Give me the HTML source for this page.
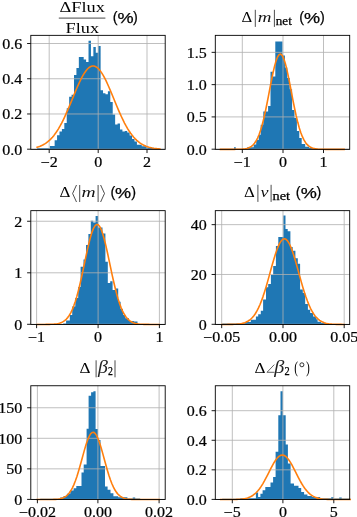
<!DOCTYPE html>
<html><head><meta charset="utf-8"><title>hist</title>
<style>
html,body{margin:0;padding:0;background:#fff;}
body{width:357px;height:517px;overflow:hidden;font-family:"Liberation Serif",serif;}
svg{display:block;}
.m{font-family:"Liberation Serif",serif;font-size:14.3px;fill:#000;}
.mi{font-family:"Liberation Serif",serif;font-style:italic;font-size:15.2px;fill:#111;}
.mb{font-family:"Liberation Serif",serif;font-style:italic;font-size:14.6px;fill:#222;}
.mp{font-family:"Liberation Serif",serif;font-size:16.5px;fill:#000;}
.sub{font-family:"Liberation Serif",serif;font-size:11.6px;fill:#000;stroke:#000;stroke-width:0.25px;}
.s{font-family:"Liberation Sans",sans-serif;font-size:15.2px;fill:#000;stroke:#000;stroke-width:0.25px;}
.t{font-family:"Liberation Serif",serif;font-size:13.8px;fill:#000;stroke:#000;stroke-width:0.22px;}
</style></head><body>
<svg width="357" height="517" viewBox="0 0 357 517">
<rect width="357" height="517" fill="#fff"/>
<path transform="translate(0.2,0)" d="M36.90,149.25L36.90,148.30L49.60,148.30L49.60,146.10L52.02,146.10L52.02,146.10L54.44,146.10L54.44,140.20L56.86,140.20L56.86,135.30L59.28,135.30L59.28,131.40L61.70,131.40L61.70,129.00L64.12,129.00L64.12,123.10L66.54,123.10L66.54,108.20L68.96,108.20L68.96,96.80L71.38,96.80L71.38,94.80L73.80,94.80L73.80,75.00L76.22,75.00L76.22,67.90L78.64,67.90L78.64,57.00L81.06,57.00L81.06,57.00L83.48,57.00L83.48,59.50L85.90,59.50L85.90,62.00L88.32,62.00L88.32,40.70L90.74,40.70L90.74,56.20L93.16,56.20L93.16,46.90L95.58,46.90L95.58,52.80L98.00,52.80L98.00,46.10L100.42,46.10L100.42,90.20L102.84,90.20L102.84,93.20L105.26,93.20L105.26,94.20L107.68,94.20L107.68,91.20L110.10,91.20L110.10,101.90L112.52,101.90L112.52,114.40L114.94,114.40L114.94,124.50L117.36,124.50L117.36,123.50L119.78,123.50L119.78,129.50L122.20,129.50L122.20,131.50L124.62,131.50L124.62,131.00L127.04,131.00L127.04,132.60L129.46,132.60L129.46,135.60L131.88,135.60L131.88,139.00L134.30,139.00L134.30,141.60L136.72,141.60L136.72,144.70L139.14,144.70L139.14,144.70L141.56,144.70L141.56,146.30L143.98,146.30L143.98,146.30L146.40,146.30L146.40,147.50L148.82,147.50L148.82,147.50L151.24,147.50L151.24,147.80L153.66,147.80L153.66,148.00L156.08,148.00L156.08,149.25Z" fill="#1f77b4"/>
<line x1="49.2" y1="35.35" x2="49.2" y2="149.35" stroke="#b0b0b0" stroke-width="0.9" stroke-opacity="0.9"/>
<line x1="98.2" y1="35.35" x2="98.2" y2="149.35" stroke="#b0b0b0" stroke-width="0.9" stroke-opacity="0.9"/>
<line x1="147.0" y1="35.35" x2="147.0" y2="149.35" stroke="#b0b0b0" stroke-width="0.9" stroke-opacity="0.9"/>
<line x1="30.8" y1="149.2" x2="165.2" y2="149.2" stroke="#b0b0b0" stroke-width="0.9" stroke-opacity="0.9"/>
<line x1="30.8" y1="113.97" x2="165.2" y2="113.97" stroke="#b0b0b0" stroke-width="0.9" stroke-opacity="0.9"/>
<line x1="30.8" y1="78.74" x2="165.2" y2="78.74" stroke="#b0b0b0" stroke-width="0.9" stroke-opacity="0.9"/>
<line x1="30.8" y1="43.5" x2="165.2" y2="43.5" stroke="#b0b0b0" stroke-width="0.9" stroke-opacity="0.9"/>
<path transform="translate(0.2,0.1)" d="M36.90,147.10L38.43,146.63L39.97,146.08L41.50,145.43L43.03,144.67L44.57,143.79L46.10,142.78L47.64,141.62L49.17,140.30L50.70,138.81L52.24,137.14L53.77,135.29L55.30,133.23L56.84,130.97L58.37,128.51L59.91,125.85L61.44,122.99L62.97,119.94L64.51,116.71L66.04,113.33L67.58,109.81L69.11,106.19L70.64,102.49L72.18,98.75L73.71,95.01L75.24,91.32L76.78,87.71L78.31,84.23L79.84,80.93L81.38,77.86L82.91,75.06L84.45,72.57L85.98,70.43L87.51,68.67L89.05,67.33L90.58,66.42L92.11,65.96L93.65,65.95L95.18,66.41L96.72,67.30L98.25,68.64L99.78,70.38L101.32,72.51L102.85,75.00L104.38,77.79L105.92,80.86L107.45,84.15L108.99,87.62L110.52,91.23L112.05,94.93L113.59,98.67L115.12,102.40L116.66,106.10L118.19,109.73L119.72,113.25L121.26,116.63L122.79,119.86L124.32,122.92L125.86,125.78L127.39,128.45L128.92,130.92L130.46,133.18L131.99,135.24L133.53,137.10L135.06,138.78L136.59,140.27L138.13,141.59L139.66,142.75L141.19,143.77L142.73,144.65L144.26,145.41L145.80,146.07L147.33,146.62L148.86,147.09L150.40,147.49L151.93,147.82L153.46,148.10L155.00,148.32L156.53,148.51L158.07,148.66L159.60,148.79" fill="none" stroke="#ff7f0e" stroke-width="1.6" stroke-linecap="square" stroke-linejoin="round"/>
<rect x="30.8" y="35.35" width="134.40" height="114.00" fill="none" stroke="#000" stroke-width="0.9"/>
<line x1="49.2" y1="149.35" x2="49.2" y2="153.04999999999998" stroke="#000" stroke-width="0.9"/>
<line x1="98.2" y1="149.35" x2="98.2" y2="153.04999999999998" stroke="#000" stroke-width="0.9"/>
<line x1="147.0" y1="149.35" x2="147.0" y2="153.04999999999998" stroke="#000" stroke-width="0.9"/>
<line x1="27.10" y1="149.2" x2="30.8" y2="149.2" stroke="#000" stroke-width="0.9"/>
<line x1="27.10" y1="113.97" x2="30.8" y2="113.97" stroke="#000" stroke-width="0.9"/>
<line x1="27.10" y1="78.74" x2="30.8" y2="78.74" stroke="#000" stroke-width="0.9"/>
<line x1="27.10" y1="43.5" x2="30.8" y2="43.5" stroke="#000" stroke-width="0.9"/>
<path transform="translate(0.2,0)" d="M233.80,149.25L233.80,147.20L235.60,147.20L235.60,149.00L247.20,149.00L247.20,146.90L249.00,146.90L249.00,147.30L253.50,147.30L253.50,144.40L256.00,144.40L256.00,140.00L258.50,140.00L258.50,134.80L260.50,134.80L260.50,124.70L263.10,124.70L263.10,111.60L267.90,111.60L267.90,106.00L270.30,106.00L270.30,71.70L272.70,71.70L272.70,76.60L275.10,76.60L275.10,41.50L282.30,41.50L282.30,55.60L284.70,55.60L284.70,67.50L287.10,67.50L287.10,78.00L289.50,78.00L289.50,89.20L291.90,89.20L291.90,110.00L294.30,110.00L294.30,118.00L296.70,118.00L296.70,131.00L299.10,131.00L299.10,138.00L301.50,138.00L301.50,144.00L305.00,144.00L305.00,146.70L309.00,146.70L309.00,148.00L315.00,148.00L315.00,149.25Z" fill="#1f77b4"/>
<line x1="242.29999999999998" y1="35.35" x2="242.29999999999998" y2="149.35" stroke="#b0b0b0" stroke-width="0.9" stroke-opacity="0.9"/>
<line x1="283.0" y1="35.35" x2="283.0" y2="149.35" stroke="#b0b0b0" stroke-width="0.9" stroke-opacity="0.9"/>
<line x1="323.5" y1="35.35" x2="323.5" y2="149.35" stroke="#b0b0b0" stroke-width="0.9" stroke-opacity="0.9"/>
<line x1="215.3" y1="149.2" x2="349.7" y2="149.2" stroke="#b0b0b0" stroke-width="0.9" stroke-opacity="0.9"/>
<line x1="215.3" y1="116.92" x2="349.7" y2="116.92" stroke="#b0b0b0" stroke-width="0.9" stroke-opacity="0.9"/>
<line x1="215.3" y1="84.64" x2="349.7" y2="84.64" stroke="#b0b0b0" stroke-width="0.9" stroke-opacity="0.9"/>
<line x1="215.3" y1="52.35" x2="349.7" y2="52.35" stroke="#b0b0b0" stroke-width="0.9" stroke-opacity="0.9"/>
<path transform="translate(0.2,0.1)" d="M220.30,149.25L221.84,149.25L223.39,149.25L224.94,149.25L226.48,149.25L228.03,149.25L229.57,149.25L231.12,149.25L232.66,149.24L234.21,149.23L235.75,149.22L237.30,149.20L238.84,149.17L240.38,149.11L241.93,149.02L243.47,148.88L245.02,148.67L246.56,148.34L248.11,147.87L249.66,147.19L251.20,146.25L252.75,144.94L254.29,143.20L255.84,140.92L257.38,138.00L258.93,134.35L260.47,129.91L262.01,124.63L263.56,118.53L265.11,111.66L266.65,104.16L268.19,96.22L269.74,88.11L271.28,80.13L272.83,72.64L274.38,66.00L275.92,60.55L277.46,56.60L279.01,54.37L280.56,53.98L282.10,55.47L283.64,58.73L285.19,63.60L286.74,69.79L288.28,76.97L289.82,84.79L291.37,92.89L292.91,100.94L294.46,108.64L296.00,115.79L297.55,122.22L299.10,127.84L300.64,132.62L302.19,136.59L303.73,139.80L305.27,142.33L306.82,144.29L308.37,145.76L309.91,146.84L311.45,147.62L313.00,148.17L314.54,148.55L316.09,148.80L317.63,148.97L319.18,149.08L320.73,149.15L322.27,149.19L323.81,149.22L325.36,149.23L326.90,149.24L328.45,149.24L330.00,149.25L331.54,149.25L333.08,149.25L334.63,149.25L336.17,149.25L337.72,149.25L339.26,149.25L340.81,149.25L342.36,149.25L343.90,149.25" fill="none" stroke="#ff7f0e" stroke-width="1.6" stroke-linecap="square" stroke-linejoin="round"/>
<rect x="215.3" y="35.35" width="134.40" height="114.00" fill="none" stroke="#000" stroke-width="0.9"/>
<line x1="242.29999999999998" y1="149.35" x2="242.29999999999998" y2="153.04999999999998" stroke="#000" stroke-width="0.9"/>
<line x1="283.0" y1="149.35" x2="283.0" y2="153.04999999999998" stroke="#000" stroke-width="0.9"/>
<line x1="323.5" y1="149.35" x2="323.5" y2="153.04999999999998" stroke="#000" stroke-width="0.9"/>
<line x1="211.60" y1="149.2" x2="215.3" y2="149.2" stroke="#000" stroke-width="0.9"/>
<line x1="211.60" y1="116.92" x2="215.3" y2="116.92" stroke="#000" stroke-width="0.9"/>
<line x1="211.60" y1="84.64" x2="215.3" y2="84.64" stroke="#000" stroke-width="0.9"/>
<line x1="211.60" y1="52.35" x2="215.3" y2="52.35" stroke="#000" stroke-width="0.9"/>
<path transform="translate(0.2,0)" d="M63.00,324.35L63.00,323.40L65.90,323.40L65.90,320.60L69.60,320.60L69.60,315.00L72.00,315.00L72.00,306.50L75.10,306.50L75.10,298.00L78.00,298.00L78.00,287.00L80.40,287.00L80.40,266.70L83.30,266.70L83.30,259.40L85.80,259.40L85.80,244.90L88.20,244.90L88.20,234.00L90.60,234.00L90.60,220.70L93.00,220.70L93.00,222.40L95.40,222.40L95.40,215.90L97.90,215.90L97.90,227.50L102.30,227.50L102.30,233.50L105.20,233.50L105.20,261.80L107.60,261.80L107.60,282.90L110.00,282.90L110.00,281.20L112.40,281.20L112.40,290.10L114.80,290.10L114.80,288.40L118.00,288.40L118.00,301.70L120.40,301.70L120.40,309.00L122.80,309.00L122.80,315.00L125.20,315.00L125.20,318.20L128.80,318.20L128.80,321.00L133.70,321.00L133.70,321.50L137.30,321.50L137.30,324.35Z" fill="#1f77b4"/>
<line x1="36.6" y1="210.65" x2="36.6" y2="324.45" stroke="#b0b0b0" stroke-width="0.9" stroke-opacity="0.9"/>
<line x1="98.1" y1="210.65" x2="98.1" y2="324.45" stroke="#b0b0b0" stroke-width="0.9" stroke-opacity="0.9"/>
<line x1="159.4" y1="210.65" x2="159.4" y2="324.45" stroke="#b0b0b0" stroke-width="0.9" stroke-opacity="0.9"/>
<line x1="30.8" y1="324.3" x2="165.2" y2="324.3" stroke="#b0b0b0" stroke-width="0.9" stroke-opacity="0.9"/>
<line x1="30.8" y1="272.8" x2="165.2" y2="272.8" stroke="#b0b0b0" stroke-width="0.9" stroke-opacity="0.9"/>
<line x1="30.8" y1="221.25" x2="165.2" y2="221.25" stroke="#b0b0b0" stroke-width="0.9" stroke-opacity="0.9"/>
<path transform="translate(0.2,0.1)" d="M37.00,324.35L38.52,324.35L40.05,324.35L41.58,324.34L43.10,324.34L44.62,324.33L46.15,324.32L47.67,324.30L49.20,324.26L50.73,324.22L52.25,324.14L53.77,324.04L55.30,323.88L56.83,323.66L58.35,323.35L59.88,322.92L61.40,322.34L62.92,321.56L64.45,320.53L65.97,319.19L67.50,317.49L69.03,315.35L70.55,312.72L72.08,309.54L73.60,305.76L75.12,301.34L76.65,296.29L78.17,290.61L79.70,284.36L81.22,277.64L82.75,270.57L84.28,263.31L85.80,256.06L87.33,249.05L88.85,242.51L90.38,236.67L91.90,231.76L93.42,227.98L94.95,225.47L96.47,224.36L98.00,224.67L99.53,226.41L101.05,229.50L102.58,233.81L104.10,239.15L105.62,245.33L107.15,252.11L108.67,259.25L110.20,266.53L111.72,273.73L113.25,280.67L114.78,287.19L116.30,293.20L117.83,298.60L119.35,303.38L120.88,307.51L122.40,311.02L123.92,313.95L125.45,316.35L126.97,318.29L128.50,319.82L130.03,321.02L131.55,321.93L133.07,322.62L134.60,323.13L136.12,323.50L137.65,323.77L139.18,323.96L140.70,324.09L142.22,324.18L143.75,324.24L145.28,324.28L146.80,324.31L148.32,324.32L149.85,324.33L151.38,324.34L152.90,324.34L154.43,324.35L155.95,324.35L157.47,324.35L159.00,324.35" fill="none" stroke="#ff7f0e" stroke-width="1.6" stroke-linecap="square" stroke-linejoin="round"/>
<rect x="30.8" y="210.65" width="134.40" height="113.80" fill="none" stroke="#000" stroke-width="0.9"/>
<line x1="36.6" y1="324.45" x2="36.6" y2="328.15" stroke="#000" stroke-width="0.9"/>
<line x1="98.1" y1="324.45" x2="98.1" y2="328.15" stroke="#000" stroke-width="0.9"/>
<line x1="159.4" y1="324.45" x2="159.4" y2="328.15" stroke="#000" stroke-width="0.9"/>
<line x1="27.10" y1="324.3" x2="30.8" y2="324.3" stroke="#000" stroke-width="0.9"/>
<line x1="27.10" y1="272.8" x2="30.8" y2="272.8" stroke="#000" stroke-width="0.9"/>
<line x1="27.10" y1="221.25" x2="30.8" y2="221.25" stroke="#000" stroke-width="0.9"/>
<path transform="translate(0.2,0)" d="M222.00,324.35L222.00,323.60L236.00,323.60L236.00,323.20L245.00,323.20L245.00,322.00L250.60,322.00L250.60,319.80L255.70,319.80L255.70,316.40L258.00,316.40L258.00,314.20L260.60,314.20L260.60,310.80L262.90,310.80L262.90,299.60L265.80,299.60L265.80,287.30L268.00,287.30L268.00,284.00L270.70,284.00L270.70,275.00L273.00,275.00L273.00,266.00L275.70,266.00L275.70,245.90L278.10,245.90L278.10,236.90L283.10,236.90L283.10,215.60L285.30,215.60L285.30,229.00L287.50,229.00L287.50,231.30L290.20,231.30L290.20,247.00L292.50,247.00L292.50,250.80L295.20,250.80L295.20,258.20L297.60,258.20L297.60,263.80L299.90,263.80L299.90,289.60L302.60,289.60L302.60,292.90L305.00,292.90L305.00,304.10L307.70,304.10L307.70,309.70L310.00,309.70L310.00,313.10L312.90,313.10L312.90,316.40L316.00,316.40L316.00,319.20L317.40,319.20L317.40,321.70L321.00,321.70L321.00,323.00L327.50,323.00L327.50,324.35Z" fill="#1f77b4"/>
<line x1="221.7" y1="210.65" x2="221.7" y2="324.45" stroke="#b0b0b0" stroke-width="0.9" stroke-opacity="0.9"/>
<line x1="283.0" y1="210.65" x2="283.0" y2="324.45" stroke="#b0b0b0" stroke-width="0.9" stroke-opacity="0.9"/>
<line x1="344.2" y1="210.65" x2="344.2" y2="324.45" stroke="#b0b0b0" stroke-width="0.9" stroke-opacity="0.9"/>
<line x1="215.3" y1="324.3" x2="349.7" y2="324.3" stroke="#b0b0b0" stroke-width="0.9" stroke-opacity="0.9"/>
<line x1="215.3" y1="274.47" x2="349.7" y2="274.47" stroke="#b0b0b0" stroke-width="0.9" stroke-opacity="0.9"/>
<line x1="215.3" y1="224.65" x2="349.7" y2="224.65" stroke="#b0b0b0" stroke-width="0.9" stroke-opacity="0.9"/>
<path transform="translate(0.2,0.1)" d="M221.60,324.34L223.13,324.34L224.66,324.34L226.19,324.33L227.72,324.32L229.24,324.30L230.77,324.27L232.30,324.23L233.83,324.18L235.36,324.10L236.89,324.00L238.42,323.85L239.94,323.65L241.47,323.38L243.00,323.02L244.53,322.54L246.06,321.93L247.59,321.15L249.12,320.16L250.65,318.93L252.17,317.42L253.70,315.59L255.23,313.41L256.76,310.83L258.29,307.84L259.82,304.41L261.35,300.55L262.88,296.26L264.40,291.58L265.93,286.56L267.46,281.26L268.99,275.77L270.52,270.22L272.05,264.72L273.58,259.40L275.11,254.42L276.63,249.91L278.16,246.02L279.69,242.86L281.22,240.54L282.75,239.14L284.28,238.70L285.81,239.24L287.34,240.74L288.87,243.15L290.39,246.39L291.92,250.35L293.45,254.91L294.98,259.94L296.51,265.28L298.04,270.79L299.57,276.34L301.09,281.81L302.62,287.09L304.15,292.08L305.68,296.72L307.21,300.97L308.74,304.78L310.27,308.16L311.80,311.11L313.32,313.65L314.85,315.80L316.38,317.59L317.91,319.07L319.44,320.27L320.97,321.24L322.50,322.00L324.03,322.60L325.56,323.06L327.08,323.41L328.61,323.67L330.14,323.87L331.67,324.01L333.20,324.11L334.73,324.19L336.26,324.24L337.78,324.27L339.31,324.30L340.84,324.32L342.37,324.33L343.90,324.34" fill="none" stroke="#ff7f0e" stroke-width="1.6" stroke-linecap="square" stroke-linejoin="round"/>
<rect x="215.3" y="210.65" width="134.40" height="113.80" fill="none" stroke="#000" stroke-width="0.9"/>
<line x1="221.7" y1="324.45" x2="221.7" y2="328.15" stroke="#000" stroke-width="0.9"/>
<line x1="283.0" y1="324.45" x2="283.0" y2="328.15" stroke="#000" stroke-width="0.9"/>
<line x1="344.2" y1="324.45" x2="344.2" y2="328.15" stroke="#000" stroke-width="0.9"/>
<line x1="211.60" y1="324.3" x2="215.3" y2="324.3" stroke="#000" stroke-width="0.9"/>
<line x1="211.60" y1="274.47" x2="215.3" y2="274.47" stroke="#000" stroke-width="0.9"/>
<line x1="211.60" y1="224.65" x2="215.3" y2="224.65" stroke="#000" stroke-width="0.9"/>
<path transform="translate(0.2,0)" d="M40.00,499.45L40.00,498.80L60.00,498.80L60.00,497.60L63.40,497.60L63.40,496.00L66.70,496.00L66.70,493.80L70.10,493.80L70.10,490.40L73.40,490.40L73.40,488.20L76.10,488.20L76.10,485.90L81.30,485.90L81.30,472.50L83.50,472.50L83.50,464.60L86.40,464.60L86.40,428.70L88.40,428.70L88.40,395.80L90.90,395.80L90.90,392.20L93.20,392.20L93.20,391.30L95.40,391.30L95.40,428.90L97.70,428.90L97.70,440.00L100.30,440.00L100.30,466.10L104.80,466.10L104.80,486.40L107.40,486.40L107.40,489.80L110.30,489.80L110.30,493.30L113.20,493.30L113.20,496.20L118.00,496.20L118.00,497.30L127.20,497.30L127.20,498.40L132.50,498.40L132.50,497.60L135.00,497.60L135.00,498.60L140.00,498.60L140.00,499.45Z" fill="#1f77b4"/>
<line x1="37.4" y1="385.75" x2="37.4" y2="499.54999999999995" stroke="#b0b0b0" stroke-width="0.9" stroke-opacity="0.9"/>
<line x1="97.89999999999999" y1="385.75" x2="97.89999999999999" y2="499.54999999999995" stroke="#b0b0b0" stroke-width="0.9" stroke-opacity="0.9"/>
<line x1="159.10000000000002" y1="385.75" x2="159.10000000000002" y2="499.54999999999995" stroke="#b0b0b0" stroke-width="0.9" stroke-opacity="0.9"/>
<line x1="30.8" y1="499.4" x2="165.2" y2="499.4" stroke="#b0b0b0" stroke-width="0.9" stroke-opacity="0.9"/>
<line x1="30.8" y1="468.85" x2="165.2" y2="468.85" stroke="#b0b0b0" stroke-width="0.9" stroke-opacity="0.9"/>
<line x1="30.8" y1="438.3" x2="165.2" y2="438.3" stroke="#b0b0b0" stroke-width="0.9" stroke-opacity="0.9"/>
<line x1="30.8" y1="407.75" x2="165.2" y2="407.75" stroke="#b0b0b0" stroke-width="0.9" stroke-opacity="0.9"/>
<path transform="translate(0.2,0.1)" d="M37.00,499.45L38.52,499.45L40.05,499.45L41.58,499.45L43.10,499.45L44.62,499.45L46.15,499.44L47.67,499.43L49.20,499.42L50.73,499.40L52.25,499.37L53.77,499.32L55.30,499.24L56.83,499.12L58.35,498.94L59.88,498.67L61.40,498.28L62.92,497.74L64.45,496.99L65.97,495.97L67.50,494.63L69.03,492.90L70.55,490.71L72.08,488.01L73.60,484.76L75.12,480.94L76.65,476.56L78.17,471.69L79.70,466.41L81.22,460.87L82.75,455.25L84.28,449.76L85.80,444.64L87.33,440.14L88.85,436.47L90.38,433.83L91.90,432.37L93.42,432.18L94.95,433.25L96.47,435.53L98.00,438.89L99.53,443.16L101.05,448.11L102.58,453.51L104.10,459.12L105.62,464.71L107.15,470.08L108.67,475.10L110.20,479.63L111.72,483.63L113.25,487.06L114.78,489.92L116.30,492.27L117.83,494.14L119.35,495.59L120.88,496.70L122.40,497.53L123.92,498.13L125.45,498.56L126.97,498.86L128.50,499.07L130.03,499.21L131.55,499.30L133.07,499.36L134.60,499.39L136.12,499.42L137.65,499.43L139.18,499.44L140.70,499.44L142.22,499.45L143.75,499.45L145.28,499.45L146.80,499.45L148.32,499.45L149.85,499.45L151.38,499.45L152.90,499.45L154.43,499.45L155.95,499.45L157.47,499.45L159.00,499.45" fill="none" stroke="#ff7f0e" stroke-width="1.6" stroke-linecap="square" stroke-linejoin="round"/>
<rect x="30.8" y="385.75" width="134.40" height="113.80" fill="none" stroke="#000" stroke-width="0.9"/>
<line x1="37.4" y1="499.54999999999995" x2="37.4" y2="503.24999999999994" stroke="#000" stroke-width="0.9"/>
<line x1="97.89999999999999" y1="499.54999999999995" x2="97.89999999999999" y2="503.24999999999994" stroke="#000" stroke-width="0.9"/>
<line x1="159.10000000000002" y1="499.54999999999995" x2="159.10000000000002" y2="503.24999999999994" stroke="#000" stroke-width="0.9"/>
<line x1="27.10" y1="499.4" x2="30.8" y2="499.4" stroke="#000" stroke-width="0.9"/>
<line x1="27.10" y1="468.85" x2="30.8" y2="468.85" stroke="#000" stroke-width="0.9"/>
<line x1="27.10" y1="438.3" x2="30.8" y2="438.3" stroke="#000" stroke-width="0.9"/>
<line x1="27.10" y1="407.75" x2="30.8" y2="407.75" stroke="#000" stroke-width="0.9"/>
<path transform="translate(0.2,0)" d="M222.00,499.45L222.00,498.80L240.00,498.80L240.00,498.20L255.70,498.20L255.70,492.60L257.90,492.60L257.90,497.00L260.20,497.00L260.20,493.70L262.40,493.70L262.40,490.30L265.10,490.30L265.10,487.00L270.30,487.00L270.30,482.50L272.90,482.50L272.90,476.90L275.40,476.90L275.40,451.80L278.10,451.80L278.10,415.30L280.30,415.30L280.30,391.30L282.60,391.30L282.60,415.30L285.50,415.30L285.50,444.40L287.70,444.40L287.70,463.40L290.40,463.40L290.40,483.60L293.80,483.60L293.80,485.80L298.30,485.80L298.30,488.10L301.00,488.10L301.00,492.10L303.90,492.10L303.90,494.40L307.20,494.40L307.20,495.90L311.70,495.90L311.70,497.00L320.00,497.00L320.00,498.20L331.00,498.20L331.00,497.30L333.50,497.30L333.50,498.40L339.00,498.40L339.00,497.60L341.50,497.60L341.50,498.60L350.00,498.60L350.00,499.45Z" fill="#1f77b4"/>
<line x1="232.29999999999998" y1="385.75" x2="232.29999999999998" y2="499.54999999999995" stroke="#b0b0b0" stroke-width="0.9" stroke-opacity="0.9"/>
<line x1="282.90000000000003" y1="385.75" x2="282.90000000000003" y2="499.54999999999995" stroke="#b0b0b0" stroke-width="0.9" stroke-opacity="0.9"/>
<line x1="333.8" y1="385.75" x2="333.8" y2="499.54999999999995" stroke="#b0b0b0" stroke-width="0.9" stroke-opacity="0.9"/>
<line x1="215.3" y1="499.4" x2="349.7" y2="499.4" stroke="#b0b0b0" stroke-width="0.9" stroke-opacity="0.9"/>
<line x1="215.3" y1="469.83" x2="349.7" y2="469.83" stroke="#b0b0b0" stroke-width="0.9" stroke-opacity="0.9"/>
<line x1="215.3" y1="440.27" x2="349.7" y2="440.27" stroke="#b0b0b0" stroke-width="0.9" stroke-opacity="0.9"/>
<line x1="215.3" y1="410.7" x2="349.7" y2="410.7" stroke="#b0b0b0" stroke-width="0.9" stroke-opacity="0.9"/>
<path transform="translate(0.2,0.1)" d="M220.50,499.45L222.12,499.45L223.74,499.45L225.36,499.44L226.97,499.44L228.59,499.43L230.21,499.42L231.83,499.41L233.45,499.38L235.07,499.34L236.69,499.29L238.31,499.21L239.93,499.10L241.54,498.95L243.16,498.74L244.78,498.46L246.40,498.08L248.02,497.58L249.64,496.94L251.26,496.14L252.88,495.13L254.49,493.89L256.11,492.41L257.73,490.65L259.35,488.61L260.97,486.29L262.59,483.70L264.21,480.87L265.82,477.84L267.44,474.67L269.06,471.45L270.68,468.25L272.30,465.18L273.92,462.34L275.54,459.84L277.16,457.78L278.77,456.23L280.39,455.25L282.01,454.90L283.63,455.18L285.25,456.09L286.87,457.58L288.49,459.60L290.11,462.06L291.73,464.86L293.34,467.91L294.96,471.10L296.58,474.33L298.20,477.50L299.82,480.55L301.44,483.41L303.06,486.03L304.68,488.38L306.29,490.44L307.91,492.23L309.53,493.74L311.15,495.01L312.77,496.04L314.39,496.87L316.01,497.52L317.62,498.03L319.24,498.42L320.86,498.71L322.48,498.93L324.10,499.09L325.72,499.20L327.34,499.28L328.96,499.34L330.57,499.38L332.19,499.40L333.81,499.42L335.43,499.43L337.05,499.44L338.67,499.44L340.29,499.45L341.91,499.45L343.52,499.45L345.14,499.45L346.76,499.45L348.38,499.45L350.00,499.45" fill="none" stroke="#ff7f0e" stroke-width="1.6" stroke-linecap="square" stroke-linejoin="round"/>
<rect x="215.3" y="385.75" width="134.40" height="113.80" fill="none" stroke="#000" stroke-width="0.9"/>
<line x1="232.29999999999998" y1="499.54999999999995" x2="232.29999999999998" y2="503.24999999999994" stroke="#000" stroke-width="0.9"/>
<line x1="282.90000000000003" y1="499.54999999999995" x2="282.90000000000003" y2="503.24999999999994" stroke="#000" stroke-width="0.9"/>
<line x1="333.8" y1="499.54999999999995" x2="333.8" y2="503.24999999999994" stroke="#000" stroke-width="0.9"/>
<line x1="211.60" y1="499.4" x2="215.3" y2="499.4" stroke="#000" stroke-width="0.9"/>
<line x1="211.60" y1="469.83" x2="215.3" y2="469.83" stroke="#000" stroke-width="0.9"/>
<line x1="211.60" y1="440.27" x2="215.3" y2="440.27" stroke="#000" stroke-width="0.9"/>
<line x1="211.60" y1="410.7" x2="215.3" y2="410.7" stroke="#000" stroke-width="0.9"/>
<line x1="58.8" y1="18.1" x2="105.4" y2="18.1" stroke="#333" stroke-width="0.9"/>
<line x1="255.3" y1="9.8" x2="255.3" y2="26.9" stroke="#111" stroke-width="0.75"/>
<line x1="274.4" y1="9.8" x2="274.4" y2="26.9" stroke="#111" stroke-width="0.75"/>
<polyline points="76.5,185.0 72.6,193.5 76.5,202.0" fill="none" stroke="#111" stroke-width="0.75"/>
<line x1="79.7" y1="185.0" x2="79.7" y2="202.0" stroke="#111" stroke-width="0.75"/>
<line x1="98.1" y1="185.0" x2="98.1" y2="202.0" stroke="#111" stroke-width="0.75"/>
<polyline points="100.6,185.0 104.5,193.5 100.6,202.0" fill="none" stroke="#111" stroke-width="0.75"/>
<line x1="257.9" y1="184.8" x2="257.9" y2="201.9" stroke="#111" stroke-width="0.75"/>
<line x1="271.1" y1="184.8" x2="271.1" y2="201.9" stroke="#111" stroke-width="0.75"/>
<line x1="96.1" y1="360.3" x2="96.1" y2="377.3" stroke="#111" stroke-width="0.75"/>
<line x1="115.0" y1="360.3" x2="115.0" y2="377.3" stroke="#111" stroke-width="0.75"/>
<polyline points="274.3,364.6 267.0,372.3 274.5,372.3" fill="none" stroke="#111" stroke-width="0.65"/>
<circle cx="301.9" cy="364.8" r="2.0" fill="none" stroke="#000" stroke-width="0.8"/>
<g style="opacity:0.999">
<text transform="translate(49.2,167.05) scale(1.16,1)" text-anchor="middle" class="t">−2</text>
<text transform="translate(98.2,167.05) scale(1.16,1)" text-anchor="middle" class="t">0</text>
<text transform="translate(147.0,167.05) scale(1.16,1)" text-anchor="middle" class="t">2</text>
<text transform="translate(22.20,154.60) scale(1.16,1)" text-anchor="end" class="t">0.0</text>
<text transform="translate(22.20,119.37) scale(1.16,1)" text-anchor="end" class="t">0.2</text>
<text transform="translate(22.20,84.14) scale(1.16,1)" text-anchor="end" class="t">0.4</text>
<text transform="translate(22.20,48.90) scale(1.16,1)" text-anchor="end" class="t">0.6</text>
<text transform="translate(242.29999999999998,167.05) scale(1.16,1)" text-anchor="middle" class="t">−1</text>
<text transform="translate(283.0,167.05) scale(1.16,1)" text-anchor="middle" class="t">0</text>
<text transform="translate(323.5,167.05) scale(1.16,1)" text-anchor="middle" class="t">1</text>
<text transform="translate(206.70,154.60) scale(1.16,1)" text-anchor="end" class="t">0.0</text>
<text transform="translate(206.70,122.32) scale(1.16,1)" text-anchor="end" class="t">0.5</text>
<text transform="translate(206.70,90.04) scale(1.16,1)" text-anchor="end" class="t">1.0</text>
<text transform="translate(206.70,57.75) scale(1.16,1)" text-anchor="end" class="t">1.5</text>
<text transform="translate(36.6,342.15) scale(1.16,1)" text-anchor="middle" class="t">−1</text>
<text transform="translate(98.1,342.15) scale(1.16,1)" text-anchor="middle" class="t">0</text>
<text transform="translate(159.4,342.15) scale(1.16,1)" text-anchor="middle" class="t">1</text>
<text transform="translate(22.20,329.70) scale(1.16,1)" text-anchor="end" class="t">0</text>
<text transform="translate(22.20,278.20) scale(1.16,1)" text-anchor="end" class="t">1</text>
<text transform="translate(22.20,226.65) scale(1.16,1)" text-anchor="end" class="t">2</text>
<text transform="translate(221.7,342.15) scale(1.16,1)" text-anchor="middle" class="t">−0.05</text>
<text transform="translate(283.0,342.15) scale(1.16,1)" text-anchor="middle" class="t">0.00</text>
<text transform="translate(344.2,342.15) scale(1.16,1)" text-anchor="middle" class="t">0.05</text>
<text transform="translate(206.70,329.70) scale(1.16,1)" text-anchor="end" class="t">0</text>
<text transform="translate(206.70,279.87) scale(1.16,1)" text-anchor="end" class="t">20</text>
<text transform="translate(206.70,230.05) scale(1.16,1)" text-anchor="end" class="t">40</text>
<text transform="translate(37.4,517.25) scale(1.16,1)" text-anchor="middle" class="t">−0.02</text>
<text transform="translate(97.89999999999999,517.25) scale(1.16,1)" text-anchor="middle" class="t">0.00</text>
<text transform="translate(159.10000000000002,517.25) scale(1.16,1)" text-anchor="middle" class="t">0.02</text>
<text transform="translate(22.20,504.80) scale(1.16,1)" text-anchor="end" class="t">0</text>
<text transform="translate(22.20,474.25) scale(1.16,1)" text-anchor="end" class="t">50</text>
<text transform="translate(22.20,443.70) scale(1.16,1)" text-anchor="end" class="t">100</text>
<text transform="translate(22.20,413.15) scale(1.16,1)" text-anchor="end" class="t">150</text>
<text transform="translate(232.29999999999998,517.25) scale(1.16,1)" text-anchor="middle" class="t">−5</text>
<text transform="translate(282.90000000000003,517.25) scale(1.16,1)" text-anchor="middle" class="t">0</text>
<text transform="translate(333.8,517.25) scale(1.16,1)" text-anchor="middle" class="t">5</text>
<text transform="translate(206.70,504.80) scale(1.16,1)" text-anchor="end" class="t">0.0</text>
<text transform="translate(206.70,475.23) scale(1.16,1)" text-anchor="end" class="t">0.2</text>
<text transform="translate(206.70,445.67) scale(1.16,1)" text-anchor="end" class="t">0.4</text>
<text transform="translate(206.70,416.10) scale(1.16,1)" text-anchor="end" class="t">0.6</text>
<text transform="translate(59.50,11.80) scale(1,1.0)" x="0" y="0" textLength="45.40" lengthAdjust="spacingAndGlyphs" class="m" >ΔFlux</text>
<text transform="translate(65.60,33.30) scale(1,1.0)" x="0" y="0" textLength="33.50" lengthAdjust="spacingAndGlyphs" class="m" >Flux</text>
<text transform="translate(112.70,22.20) scale(1,1.0)" x="0" y="0" textLength="4.80" lengthAdjust="spacingAndGlyphs" class="s" >(</text>
<text transform="translate(117.50,23.20) scale(1,1.0)" x="0" y="0" textLength="16.10" lengthAdjust="spacingAndGlyphs" class="s" >%</text>
<text transform="translate(132.90,22.20) scale(1,1.0)" x="0" y="0" textLength="4.80" lengthAdjust="spacingAndGlyphs" class="s" >)</text>
<text transform="translate(241.40,22.30) scale(1,1.0)" x="0" y="0" textLength="10.70" lengthAdjust="spacingAndGlyphs" class="m" >Δ</text>
<text transform="translate(257.70,22.30) scale(1,1.0)" x="0" y="0" textLength="13.70" lengthAdjust="spacingAndGlyphs" class="mi" >m</text>
<text transform="translate(275.80,24.80) scale(1,1.0)" x="0" y="0" textLength="16.00" lengthAdjust="spacingAndGlyphs" class="sub" >net</text>
<text transform="translate(299.20,21.60) scale(1,1.0)" x="0" y="0" textLength="4.80" lengthAdjust="spacingAndGlyphs" class="s" >(</text>
<text transform="translate(304.10,22.60) scale(1,1.0)" x="0" y="0" textLength="16.10" lengthAdjust="spacingAndGlyphs" class="s" >%</text>
<text transform="translate(320.00,21.60) scale(1,1.0)" x="0" y="0" textLength="4.80" lengthAdjust="spacingAndGlyphs" class="s" >)</text>
<text transform="translate(59.40,197.30) scale(1,1.0)" x="0" y="0" textLength="10.90" lengthAdjust="spacingAndGlyphs" class="m" >Δ</text>
<text transform="translate(81.50,197.30) scale(1,1.0)" x="0" y="0" textLength="14.10" lengthAdjust="spacingAndGlyphs" class="mi" >m</text>
<text transform="translate(110.40,196.60) scale(1,1.0)" x="0" y="0" textLength="4.80" lengthAdjust="spacingAndGlyphs" class="s" >(</text>
<text transform="translate(115.00,197.60) scale(1,1.0)" x="0" y="0" textLength="16.10" lengthAdjust="spacingAndGlyphs" class="s" >%</text>
<text transform="translate(131.20,196.60) scale(1,1.0)" x="0" y="0" textLength="4.80" lengthAdjust="spacingAndGlyphs" class="s" >)</text>
<text transform="translate(244.10,197.30) scale(1,1.0)" x="0" y="0" textLength="10.80" lengthAdjust="spacingAndGlyphs" class="m" >Δ</text>
<text transform="translate(260.50,197.30) scale(1,1.0)" x="0" y="0" textLength="8.00" lengthAdjust="spacingAndGlyphs" class="mi" >v</text>
<text transform="translate(272.50,199.80) scale(1,1.0)" x="0" y="0" textLength="17.50" lengthAdjust="spacingAndGlyphs" class="sub" >net</text>
<text transform="translate(295.80,196.60) scale(1,1.0)" x="0" y="0" textLength="4.80" lengthAdjust="spacingAndGlyphs" class="s" >(</text>
<text transform="translate(300.80,197.60) scale(1,1.0)" x="0" y="0" textLength="16.10" lengthAdjust="spacingAndGlyphs" class="s" >%</text>
<text transform="translate(316.60,196.60) scale(1,1.0)" x="0" y="0" textLength="4.80" lengthAdjust="spacingAndGlyphs" class="s" >)</text>
<text transform="translate(79.50,372.60) scale(1,1.0)" x="0" y="0" textLength="11.00" lengthAdjust="spacingAndGlyphs" class="m" >Δ</text>
<text transform="translate(98.10,372.60) scale(1,1.22)" x="0" y="0" textLength="9.90" lengthAdjust="spacingAndGlyphs" class="mb" >β</text>
<text transform="translate(108.00,375.30) scale(1,1.0)" x="0" y="0" textLength="4.90" lengthAdjust="spacingAndGlyphs" class="sub" >2</text>
<text transform="translate(254.40,372.60) scale(1,1.0)" x="0" y="0" textLength="11.00" lengthAdjust="spacingAndGlyphs" class="m" >Δ</text>
<text transform="translate(274.30,372.60) scale(1,1.22)" x="0" y="0" textLength="10.10" lengthAdjust="spacingAndGlyphs" class="mb" >β</text>
<text transform="translate(284.40,375.30) scale(1,1.0)" x="0" y="0" textLength="5.20" lengthAdjust="spacingAndGlyphs" class="sub" >2</text>
<text transform="translate(294.20,373.40) scale(1,1.0)" x="0" y="0" textLength="3.80" lengthAdjust="spacingAndGlyphs" class="mp" >(</text>
<text transform="translate(306.00,373.40) scale(1,1.0)" x="0" y="0" textLength="3.80" lengthAdjust="spacingAndGlyphs" class="mp" >)</text>
</g>
</svg>
</body></html>
